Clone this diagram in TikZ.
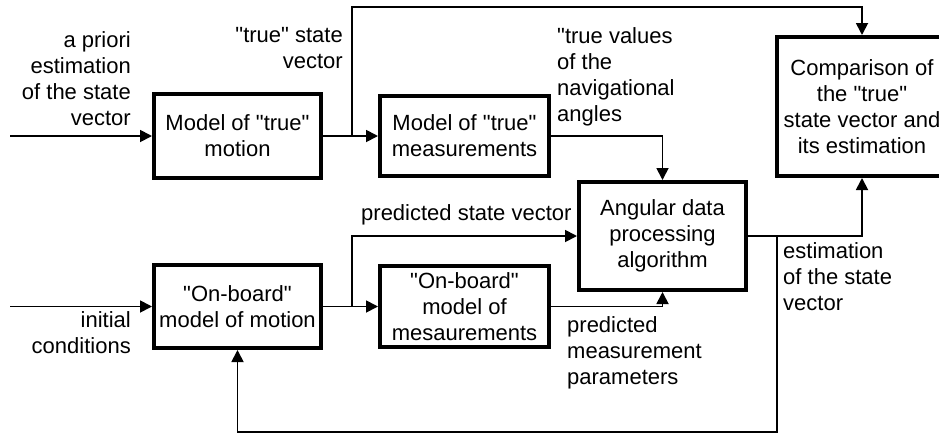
\documentclass[tikz,border=0pt]{standalone}
\usepackage{fontspec}
% a family of its own keeps the straight double quotes
\newfontfamily\labelfont{Liberation Sans}
\usetikzlibrary{arrows.meta}
\begin{document}
\begin{tikzpicture}[x=1pt,y=-1pt,
  every node/.style={font=\labelfont\fontsize{22}{26}\selectfont, inner sep=0pt},
  block/.style={draw, line width=4pt, align=center},
  wire/.style={line width=1.8pt},
  arr/.style={wire, -{Triangle[length=12pt,width=12pt]}},
  lblR/.style={align=right, anchor=east},
  lblL/.style={align=left, anchor=west}]
\useasboundingbox (0,0) rectangle (939,434);

% blocks
\node[block, minimum width=167pt, minimum height=84pt] (m1) at (237.5,136) {Model of "true"\\motion};
\node[block, minimum width=169pt, minimum height=80pt] (m2) at (464.5,136) {Model of "true"\\measurements};
\node[block, minimum width=167pt, minimum height=108pt] (ang) at (662.5,236) {Angular data\\processing\\algorithm};
\node[block, minimum width=170pt, minimum height=139pt] (cmp) at (862,106.5) {Comparison of\\the "true"\\state vector and\\its estimation};
\node[block, minimum width=167pt, minimum height=83pt] (ob) at (237.5,306.5) {"On-board"\\model of motion};
\node[block, minimum width=169pt, minimum height=81pt] (obm) at (464.5,306.5) {"On-board"\\model of\\mesaurements};

% free ends and branch points
\coordinate (in1) at (10,136);
\coordinate (in2) at (10,306.5);
\coordinate (b1) at (352,136);
\coordinate (t1) at (352,7);
\coordinate (b2) at (352,306.5);
\coordinate (b3) at (777,236);
\coordinate (fb) at (777,432);

% connectors
\draw[arr] (in1) -- (m1.west);
\draw[arr] (m1.east) -- (m2.west);
\draw[arr] (b1) -- (t1) -| (cmp.north);
\draw[arr] (m2.east) -| (ang.north);
\draw[arr] (in2) -- (ob.west);
\draw[arr] (ob.east) -- (obm.west);
\draw[arr] (b2) |- (ang.west);
\draw[arr] (obm.east) -| (ang.south);
\draw[arr] (ang.east) -| (cmp.south);
\draw[arr] (b3) -- (fb) -| (ob.south);

% labels
\node[lblR] (l1) at (131,79) {a priori\\estimation\\of the state\\vector};
\node[lblR] (l2) at (343,48) {"true" state\\vector};
\node[lblL] (l3) at (557,77) {"true values\\of the\\navigational\\angles};
\node[lblL] (l4) at (361,215) {predicted state vector};
\node[lblL] (l5) at (567,353) {predicted\\measurement\\parameters};
\node[lblL] (l6) at (783,277) {estimation\\of the state\\vector};
\node[lblR] (l7) at (131,333) {initial\\conditions};
\end{tikzpicture}
\end{document}
